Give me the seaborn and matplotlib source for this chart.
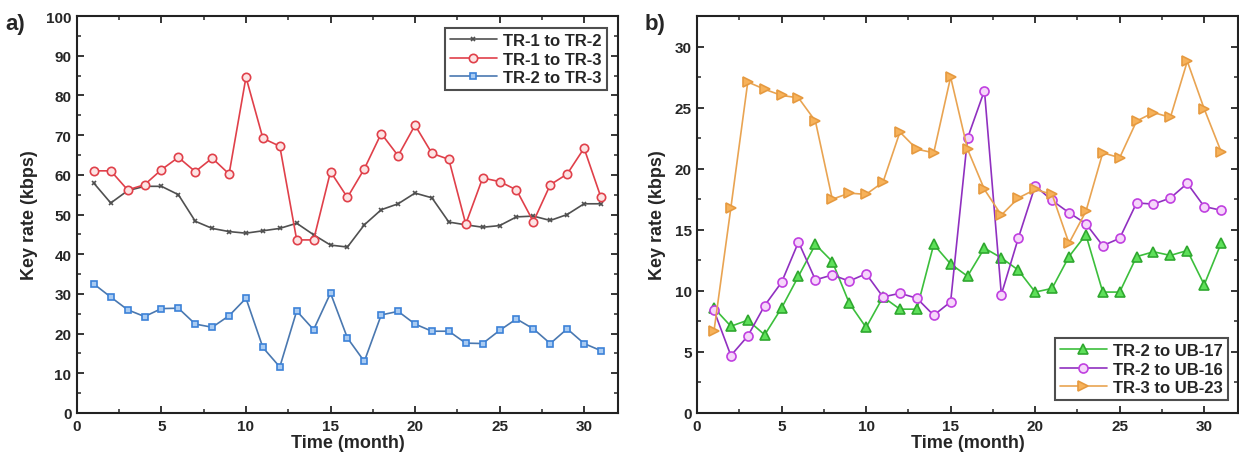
import numpy as np
import pandas as pd
import matplotlib
matplotlib.use("Agg")
import matplotlib.pyplot as plt
from matplotlib.ticker import MultipleLocator
import seaborn as sns

# months 1..31
months = list(range(1, 32))

# panel a) key rates (kbps)
tr1_tr2 = [57.9, 52.9, 56.0, 57.1, 57.1, 55.0, 48.3, 46.5, 45.7, 45.3, 45.9, 46.5, 47.8, 44.9, 42.3, 41.8,
           47.4, 51.2, 52.7, 55.4, 54.2, 48.1, 47.4, 46.8, 47.2, 49.4, 49.6, 48.5, 50.0, 52.7, 52.7]
tr1_tr3 = [61.0, 61.0, 56.2, 57.5, 61.3, 64.4, 60.8, 64.2, 60.2, 84.6, 69.2, 67.2, 43.6, 43.6, 60.8, 54.3,
           61.5, 70.4, 64.8, 72.5, 65.4, 63.9, 47.6, 59.2, 58.3, 56.2, 48.2, 57.5, 60.2, 66.7, 54.3]
tr2_tr3 = [32.5, 29.2, 26.0, 24.3, 26.3, 26.4, 22.4, 21.6, 24.5, 28.9, 16.5, 11.6, 25.7, 21.0, 30.2, 18.9,
           13.0, 24.7, 25.6, 22.4, 20.6, 20.6, 17.6, 17.5, 20.8, 23.7, 21.2, 17.5, 21.2, 17.5, 15.7]

# panel b) key rates (kbps)
tr2_ub17 = [8.6, 7.1, 7.6, 6.4, 8.6, 11.2, 13.8, 12.4, 9.0, 7.0, 9.5, 8.5, 8.5, 13.8, 12.2, 11.2,
            13.5, 12.7, 11.7, 9.9, 10.2, 12.8, 14.6, 9.9, 9.9, 12.8, 13.2, 12.9, 13.3, 10.5, 13.9]
tr2_ub16 = [8.4, 4.7, 6.3, 8.8, 10.7, 14.0, 10.9, 11.3, 10.8, 11.4, 9.5, 9.8, 9.4, 8.0, 9.1, 22.5,
            26.4, 9.7, 14.3, 18.6, 17.4, 16.4, 15.5, 13.7, 14.3, 17.2, 17.1, 17.6, 18.8, 16.9, 16.6]
tr3_ub23 = [6.7, 16.8, 27.1, 26.5, 26.0, 25.8, 23.9, 17.5, 18.0, 17.9, 18.9, 23.0, 21.6, 21.3, 27.5, 21.6,
            18.3, 16.2, 17.6, 18.3, 17.9, 13.9, 16.5, 21.3, 20.9, 23.9, 24.6, 24.2, 28.8, 24.9, 21.4]

sns.set_style("ticks")
plt.rcParams['font.family'] = ['Liberation Sans', 'DejaVu Sans']
plt.rcParams['font.weight'] = 'bold'
plt.rcParams['axes.labelweight'] = 'bold'

fig = plt.figure(figsize=(12.39, 4.6), dpi=100)
ax1 = fig.add_axes([0.0621, 0.1, 0.4366, 0.863])
ax2 = fig.add_axes([0.5626, 0.1, 0.4366, 0.863])

df_a = pd.DataFrame({'month': months, 'TR-1 to TR-2': tr1_tr2, 'TR-1 to TR-3': tr1_tr3, 'TR-2 to TR-3': tr2_tr3})
df_b = pd.DataFrame({'month': months, 'TR-2 to UB-17': tr2_ub17, 'TR-2 to UB-16': tr2_ub16, 'TR-3 to UB-23': tr3_ub23})

# (line color, marker, edge, face, size)
styles_a = {
    'TR-1 to TR-2': ('#505050', 'x', '#505050', '#505050', 3.5),
    'TR-1 to TR-3': ('#e0404a', 'o', '#e0404a', '#fde4e4', 6),
    'TR-2 to TR-3': ('#4a78b0', 's', '#3c82d8', '#a9cbf2', 5),
}
styles_b = {
    'TR-2 to UB-17': ('#3cbf3c', '^', '#2fa82f', '#5ee05a', 6.5),
    'TR-2 to UB-16': ('#9030c0', 'o', '#c040e0', '#f6d6fb', 6.5),
    'TR-3 to UB-23': ('#e9a452', '>', '#e69a40', '#f7b25a', 6.5),
}

for ax, df, styles in [(ax1, df_a, styles_a), (ax2, df_b, styles_b)]:
    for name, (lc, mk, ec, fc, ms) in styles.items():
        sns.lineplot(data=df, x='month', y=name, ax=ax, color=lc, marker=mk, markersize=ms,
                     markeredgecolor=ec, markerfacecolor=fc, markeredgewidth=1.2, linewidth=1.2,
                     label=name)

ax1.set_xlim(0, 32)
ax1.set_ylim(0, 100)
ax1.yaxis.set_major_locator(MultipleLocator(10))
ax1.yaxis.set_minor_locator(MultipleLocator(5))
ax2.set_xlim(0, 32)
ax2.set_ylim(0, 32.5)
ax2.yaxis.set_major_locator(MultipleLocator(5))
ax2.yaxis.set_minor_locator(MultipleLocator(2.5))

for ax in (ax1, ax2):
    ax.xaxis.set_major_locator(MultipleLocator(5))
    ax.xaxis.set_minor_locator(MultipleLocator(2.5))
    ax.tick_params(which='both', direction='in', top=True, right=True, labeltop=False, labelright=False)
    ax.tick_params(which='major', length=5, width=1.3, labelsize=11, pad=4)
    ax.tick_params(which='minor', length=3, width=1.1)
    for s in ax.spines.values():
        s.set_linewidth(1.5)
        s.set_color('#222222')
    ax.set_xlabel('Time (month)', fontsize=13, fontweight='bold', labelpad=1)
    ax.set_ylabel('Key rate (kbps)', fontsize=13, fontweight='bold', labelpad=6)
    for lab in ax.get_xticklabels() + ax.get_yticklabels():
        lab.set_fontweight('bold')

leg1 = ax1.legend(loc='upper right', fontsize=12, frameon=True, fancybox=False, edgecolor='#222222',
                  handlelength=2.8, borderpad=0.3, labelspacing=0.2, handletextpad=0.4,
                  bbox_to_anchor=(0.995, 0.99))
leg2 = ax2.legend(loc='lower right', fontsize=12, frameon=True, fancybox=False, edgecolor='#222222',
                  handlelength=2.8, borderpad=0.3, labelspacing=0.2, handletextpad=0.4,
                  bbox_to_anchor=(0.997, 0.012))
for leg in (leg1, leg2):
    leg.get_frame().set_linewidth(1.5)
    for t in leg.get_texts():
        t.set_fontweight('bold')

fig.text(0.004, 0.935, 'a)', fontsize=16, fontweight='bold')
fig.text(0.520, 0.935, 'b)', fontsize=16, fontweight='bold')

fig.savefig('out.png', dpi=100)
